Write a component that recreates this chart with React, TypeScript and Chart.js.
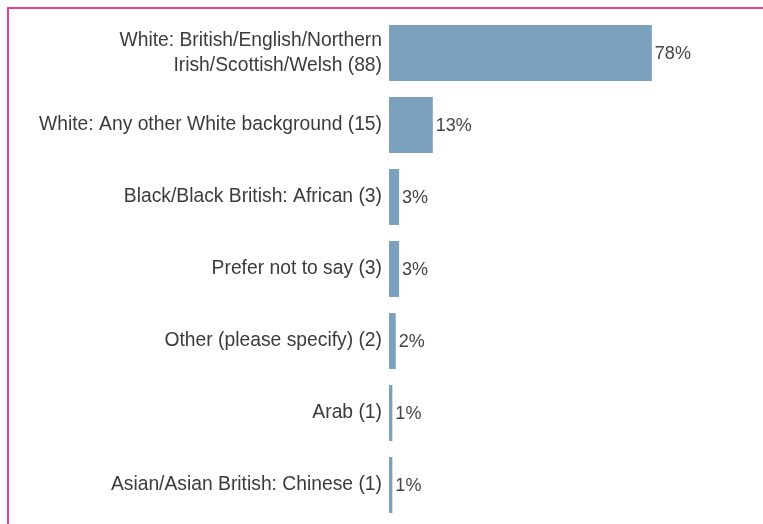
import { useEffect, useRef } from "react";
import { Chart, registerables } from "chart.js";

Chart.register(...registerables);

// Ethnicity of respondents (count in brackets), share of all responses
const categories: (string | string[])[] = [
  ["White: British/English/Northern", "Irish/Scottish/Welsh (88)"],
  "White: Any other White background (15)",
  "Black/Black British: African (3)",
  "Prefer not to say (3)",
  "Other (please specify) (2)",
  "Arab (1)",
  "Asian/Asian British: Chinese (1)",
];
const shares = [78, 13, 3, 3, 2, 1, 1];
const shareLabels = ["78%", "13%", "3%", "3%", "2%", "1%", "1%"];

const FONT = '"Liberation Sans", Arial, Helvetica, sans-serif';
const BAR_COLOR = "#7ba1be";
const TEXT_COLOR = "#3b3b3b";

const valueLabels = {
  id: "valueLabels",
  afterDatasetsDraw(chart: any) {
    const { ctx } = chart;
    const meta = chart.getDatasetMeta(0);
    ctx.save();
    ctx.font = `18px ${FONT}`;
    ctx.fillStyle = "#454545";
    ctx.textAlign = "left";
    ctx.textBaseline = "middle";
    meta.data.forEach((bar: any, i: number) => {
      ctx.fillText(shareLabels[i], bar.x + 3, bar.y + 1);
    });
    ctx.restore();
  },
};

export default function App() {
  const canvasRef = useRef<HTMLCanvasElement | null>(null);

  useEffect(() => {
    if (!canvasRef.current) return;
    const chart = new Chart(canvasRef.current, {
      type: "bar",
      data: {
        labels: categories,
        datasets: [
          {
            data: shares,
            backgroundColor: BAR_COLOR,
            borderWidth: 0,
            barPercentage: 56 / 72,
            categoryPercentage: 1,
          },
        ],
      },
      options: {
        indexAxis: "y",
        animation: false,
        responsive: false,
        maintainAspectRatio: false,
        layout: { padding: { top: 17, bottom: 3, left: 0, right: 37 } },
        plugins: {
          legend: { display: false },
          tooltip: { enabled: false },
        },
        scales: {
          x: {
            display: false,
            min: 0,
            max: 100,
          },
          y: {
            grid: { display: false, drawTicks: false },
            border: { display: false },
            afterFit: (scale: any) => {
              // fixed label column; no extra end padding for the wrapped first label
              scale.width = 389;
              scale.paddingTop = 0;
              scale.paddingBottom = 0;
            },
            ticks: {
              padding: 7,
              color: TEXT_COLOR,
              font: { family: FONT, size: 19.3, lineHeight: 1.28 },
            },
          },
        },
      },
      plugins: [valueLabels],
    });
    return () => chart.destroy();
  }, []);

  return (
    <div
      style={{
        position: "absolute",
        left: 0,
        top: 0,
        width: 763,
        height: 524,
        background: "#ffffff",
        overflow: "hidden",
      }}
    >
      <div
        style={{
          position: "absolute",
          left: 7,
          top: 7,
          right: 0,
          bottom: 0,
          borderTop: "2px solid #e6418f",
          borderLeft: "2px solid #e6418f",
        }}
      />
      <canvas
        ref={canvasRef}
        width={763}
        height={524}
        style={{ position: "absolute", left: 0, top: 0, width: 763, height: 524 }}
      />
    </div>
  );
}
